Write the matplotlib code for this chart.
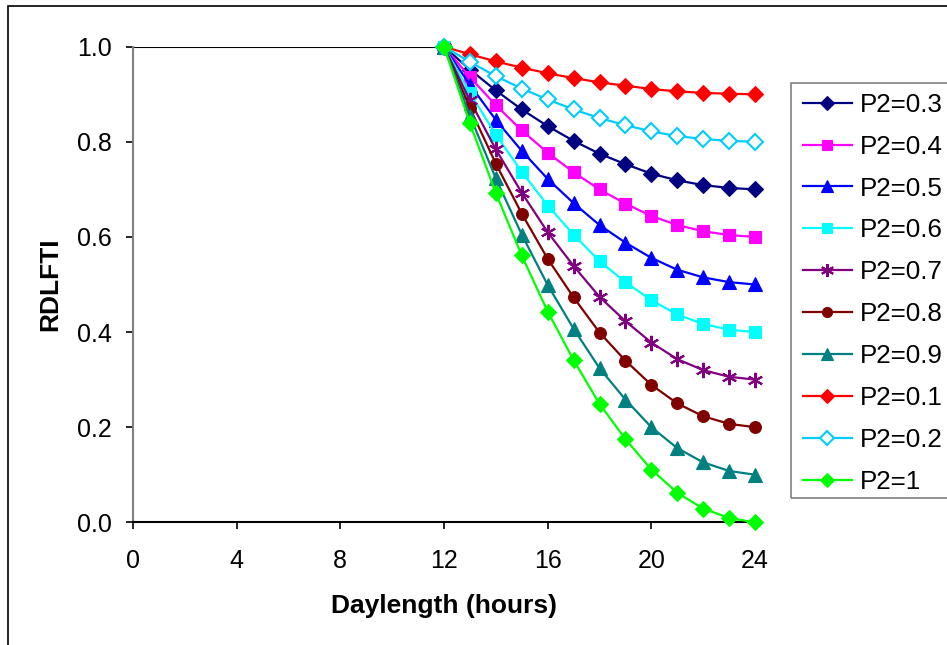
import matplotlib
matplotlib.use("Agg")
import matplotlib.pyplot as plt
from matplotlib.patches import Rectangle

plt.rcParams['font.family'] = ['Liberation Sans', 'DejaVu Sans']

hours = [12, 13, 14, 15, 16, 17, 18, 19, 20, 21, 22, 23, 24]

p2_03 = [1.0, 0.952, 0.908, 0.868, 0.833, 0.802, 0.775, 0.753, 0.733, 0.719, 0.709, 0.703, 0.700]
p2_04 = [1.0, 0.936, 0.877, 0.824, 0.777, 0.736, 0.700, 0.670, 0.644, 0.625, 0.612, 0.604, 0.600]
p2_05 = [1.0, 0.920, 0.846, 0.781, 0.722, 0.671, 0.625, 0.588, 0.556, 0.531, 0.515, 0.505, 0.500]
p2_06 = [1.0, 0.903, 0.815, 0.737, 0.666, 0.605, 0.549, 0.505, 0.467, 0.437, 0.417, 0.405, 0.400]
p2_07 = [1.0, 0.887, 0.784, 0.693, 0.610, 0.539, 0.474, 0.423, 0.378, 0.343, 0.320, 0.306, 0.300]
p2_08 = [1.0, 0.871, 0.754, 0.649, 0.554, 0.473, 0.399, 0.340, 0.289, 0.250, 0.223, 0.207, 0.200]
p2_09 = [1.0, 0.855, 0.723, 0.605, 0.499, 0.407, 0.324, 0.258, 0.200, 0.156, 0.126, 0.108, 0.100]
p2_01 = [1.0, 0.984, 0.969, 0.956, 0.944, 0.934, 0.925, 0.918, 0.911, 0.906, 0.903, 0.901, 0.900]
p2_02 = [1.0, 0.968, 0.938, 0.912, 0.889, 0.868, 0.850, 0.835, 0.822, 0.812, 0.806, 0.802, 0.800]
p2_10 = [1.0, 0.839, 0.692, 0.561, 0.443, 0.341, 0.249, 0.175, 0.111, 0.062, 0.029, 0.009, 0.000]

base_x = [0, 12]
base_y = [1.0, 1.0]

labels = ["P2=0.3", "P2=0.4", "P2=0.5", "P2=0.6", "P2=0.7",
          "P2=0.8", "P2=0.9", "P2=0.1", "P2=0.2", "P2=1"]
series = [p2_03, p2_04, p2_05, p2_06, p2_07, p2_08, p2_09, p2_01, p2_02, p2_10]
colors = ["#000080", "#FF00FF", "#0000FF", "#00FFFF", "#800080",
          "#800000", "#008080", "#FF0000", "#00CCFF", "#00FF00"]
markers = ["D", "s", "^", "s", (6, 2, 0), "o", "^", "D", "D", "D"]
msizes = [8.5, 8.5, 9.5, 8.5, 11, 8.5, 9.5, 8.5, 8.5, 8.5]

fig = plt.figure(figsize=(9.47, 6.45), dpi=100)
ax = fig.add_axes([133/947, 1 - 522.3/645, (755-133)/947, (522.3-46.7)/645])

ax.plot(base_x, base_y, color="black", lw=1.5, zorder=2)

for lab, ys, c, m, ms in zip(labels, series, colors, markers, msizes):
    face = "white" if lab == "P2=0.2" else c
    ax.plot(hours, ys, color=c, lw=1.6, marker=m, markersize=ms,
            markerfacecolor=face, markeredgecolor=c,
            markeredgewidth=1.5 if (lab in ("P2=0.2", "P2=0.7")) else 0.8,
            label=lab, clip_on=False, zorder=3)

ax.set_xlim(0, 24)
ax.set_ylim(0, 1.0)
ax.set_xticks([0, 4, 8, 12, 16, 20, 24])
ax.set_yticks([0.0, 0.2, 0.4, 0.6, 0.8, 1.0])
ax.set_yticklabels(["0.0", "0.2", "0.4", "0.6", "0.8", "1.0"])
ax.tick_params(axis='both', direction='out', length=5, width=1.2, labelsize=18, colors='black')
ax.tick_params(axis='y', pad=10)
ax.tick_params(axis='x', pad=14)

for s in ["top", "right"]:
    ax.spines[s].set_visible(False)
ax.spines["left"].set_color("#808080")
ax.spines["left"].set_linewidth(1.5)
ax.spines["bottom"].set_color("black")
ax.spines["bottom"].set_linewidth(1.5)

ax.set_xlabel("Daylength (hours)", fontsize=19, fontweight="bold", labelpad=15)
ax.set_ylabel("RDLFTI", fontsize=19, fontweight="bold", labelpad=11)

leg = fig.legend(loc="upper left", bbox_to_anchor=(791/947, 1 - 81/645),
                 bbox_transform=fig.transFigure, fontsize=18.7, frameon=False,
                 borderaxespad=0, handlelength=1.9, handletextpad=0.3,
                 labelspacing=0.69, borderpad=0.45, markerscale=0.85)

# legend frame (extends past the right edge as in the reference)
fig.patches.append(Rectangle((791/947, 1 - 498/645), 0.3, (498 - 83)/645,
                             transform=fig.transFigure, fill=False,
                             edgecolor="#808080", lw=1.2))

# outer chart border (only top and left visible in the crop)
fig.patches.append(Rectangle((7.5/947, -0.1), 2, 1.1 - 6/645, transform=fig.transFigure,
                             fill=False, edgecolor="black", lw=1.2))

fig.savefig("out.png", dpi=100)
